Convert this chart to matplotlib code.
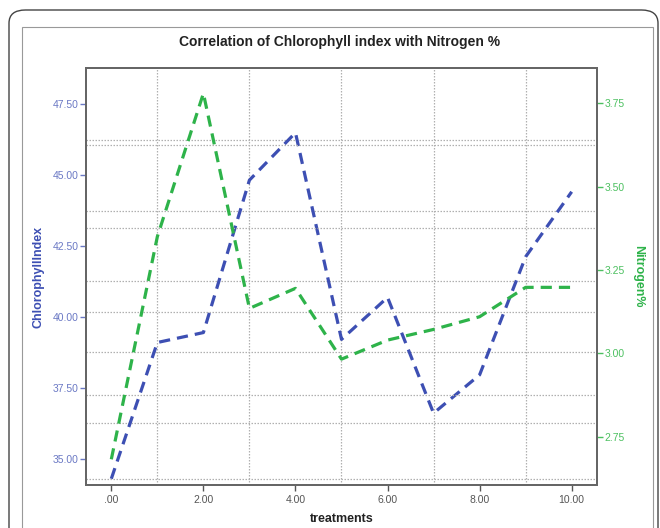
import matplotlib
matplotlib.use("Agg")
import matplotlib.pyplot as plt
from matplotlib.patches import FancyBboxPatch, Rectangle

treatments = [0, 1, 2, 3, 4, 5, 6, 7, 8, 9, 10]
chlorophyll = [34.3, 39.10, 39.45, 44.82, 46.49, 39.21, 40.69, 36.61, 37.96, 42.12, 44.41]
nitrogen = [2.683, 3.35, 3.779, 3.135, 3.195, 2.983, 3.04, 3.072, 3.11, 3.198, 3.198]

x_ticks = [0, 2, 4, 6, 8, 10]
x_labels = [".00", "2.00", "4.00", "6.00", "8.00", "10.00"]
left_ticks = [35.0, 37.5, 40.0, 42.5, 45.0, 47.5]
left_labels = ["35.00", "37.50", "40.00", "42.50", "45.00", "47.50"]
right_ticks = [2.75, 3.00, 3.25, 3.50, 3.75]
right_labels = ["2.75", "3.00", "3.25", "3.50", "3.75"]
left_grid = [36.25, 38.75, 41.25, 43.75, 46.25]
right_grid = [2.625, 2.875, 3.125, 3.375, 3.625]
x_grid = [1, 3, 5, 7, 9]

BLUE = "#3d4fb3"
BLUE_T = "#6a78c4"
GREEN = "#2eb34a"
GREEN_T = "#4cc060"
plt.rcParams['font.family'] = ['Liberation Sans', 'DejaVu Sans']

fig = plt.figure(figsize=(6.6, 5.28), dpi=100)

# outer frame
fig.patches.append(FancyBboxPatch((9/660, -0.05), 649/660, (528-10)/528 + 0.05,
                                  boxstyle="round,pad=0,rounding_size=0.025",
                                  transform=fig.transFigure, fill=False,
                                  edgecolor="#444444", linewidth=1.0))
fig.patches.append(Rectangle((22/660, -0.05), 631/660, (528-27)/528 + 0.05,
                             transform=fig.transFigure, fill=False,
                             edgecolor="#999999", linewidth=0.8))

ax = fig.add_axes([86/660, 43/528, 511/660, 417/528])
ax2 = ax.twinx()

ax.set_xlim(-0.55, 10.55)
ax.set_ylim(34.08, 48.77)
ax2.set_ylim(2.606, 3.855)

gstyle = dict(color="#b0b0b0", linestyle=(0, (1.2, 1.2)), linewidth=0.9, zorder=0)
for g in x_grid:
    ax.axvline(g, **gstyle)
for g in left_grid:
    ax.axhline(g, **gstyle)
for g in right_grid:
    ax2.axhline(g, **gstyle)

ax.plot(treatments, chlorophyll, color=BLUE, linewidth=2.3, linestyle=(0, (3.5, 2.2)), zorder=3)
ax2.plot(treatments, nitrogen, color=GREEN, linewidth=2.3, linestyle=(0, (3.5, 2.2)), zorder=3)

ax.set_xticks(x_ticks)
ax.set_xticklabels(x_labels, fontsize=7.5, color="#555555")
ax.set_yticks(left_ticks)
ax.set_yticklabels(left_labels, fontsize=7.5, color=BLUE_T)
ax2.set_yticks(right_ticks)
ax2.set_yticklabels(right_labels, fontsize=7.5, color=GREEN_T)

ax.tick_params(axis='x', length=4, width=1, color="#555555", pad=3)
ax.tick_params(axis='y', length=4, width=1, color=BLUE_T, pad=1.5)
ax2.tick_params(axis='y', length=4, width=1, color=GREEN_T, pad=1.5)

for a in (ax, ax2):
    for s in a.spines.values():
        s.set_color("#666666")
        s.set_linewidth(1.4)

ax.set_xlabel("treatments", fontsize=9, fontweight="bold", color="#222222", labelpad=6)
ax.set_ylabel("ChlorophyllIndex", fontsize=9, fontweight="bold", color=BLUE, labelpad=6)
ax2.set_ylabel("Nitrogen%", fontsize=9, fontweight="bold", color=GREEN, rotation=-90, labelpad=14)

fig.text(0.515, 1 - 42/528, "Correlation of Chlorophyll index with Nitrogen %",
         ha="center", va="center", fontsize=10, fontweight="bold", color="#222222")

fig.savefig("out.png", dpi=100)
